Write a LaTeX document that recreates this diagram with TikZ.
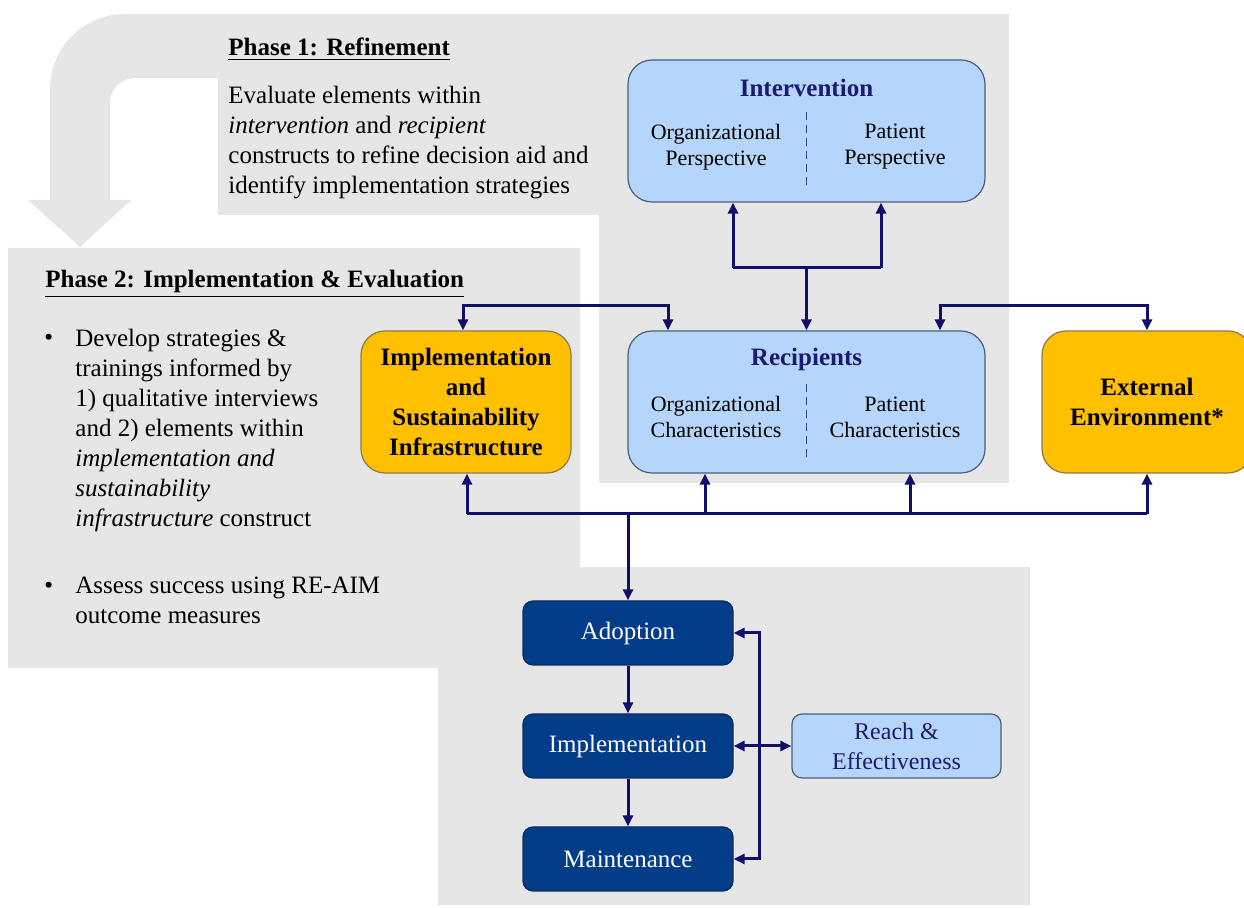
\documentclass[tikz,border=0pt]{standalone}
\usepackage{fontspec}
\setmainfont{Liberation Serif}
\usetikzlibrary{arrows.meta}

\definecolor{phasegray}{HTML}{E7E6E6}
\definecolor{lightblue}{HTML}{B5D6FA}
\definecolor{boxedge}{HTML}{4A5E7E}
\definecolor{gold}{HTML}{FFC000}
\definecolor{goldedge}{HTML}{8C7A4A}
\definecolor{navybox}{HTML}{033C89}
\definecolor{navyedge}{HTML}{0C2A5E}
\definecolor{navytext}{HTML}{1A1A6E}
\definecolor{navyline}{HTML}{10106A}
\definecolor{dividerblue}{HTML}{2A4A8A}

\newcommand{\bodysize}{\fontsize{12.5}{15}\selectfont}
\newcommand{\subsize}{\fontsize{11}{13}\selectfont}

\tikzset{
    bluebox/.style={shape=rectangle, rounded corners=12pt, draw=boxedge, line width=0.6pt, fill=lightblue, minimum width=178.5pt, minimum height=71pt, inner sep=0pt},
    goldbox/.style={shape=rectangle, rounded corners=12pt, draw=goldedge, line width=0.6pt, fill=gold, minimum width=105pt, minimum height=71pt, inner sep=0pt, align=center, font=\bodysize\bfseries},
    stagebox/.style={shape=rectangle, rounded corners=5pt, draw=navyedge, line width=0.6pt, fill=navybox, text=white, minimum width=105pt, minimum height=32pt, inner sep=0pt, font=\bodysize},
    reachbox/.style={shape=rectangle, rounded corners=5pt, draw=boxedge, line width=0.6pt, fill=lightblue, text=navytext, minimum width=104.5pt, minimum height=32pt, inner sep=0pt, align=center, font=\fontsize{12}{15}\selectfont},
    boxtitle/.style={inner sep=0pt, text=navytext, font=\bodysize\bfseries},
    subtext/.style={inner sep=0pt, align=center, font=\subsize},
    divider/.style={draw=dividerblue, line width=0.9pt, dash pattern=on 4pt off 2.5pt},
    link/.style={draw=navyline, line width=1.5pt},
    phasetext/.style={inner sep=0pt, align=left, font=\bodysize},
}

\begin{document}
\begin{tikzpicture}[x=0.5pt, y=-0.5pt, >={Triangle[length=5.5pt, width=5pt]}]
    \useasboundingbox (0,0) rectangle (1244,908);

    % phase backgrounds
    \fill[phasegray] (80,247) -- (131,200) -- (110,200) -- (110,103)
        arc[start angle=180, end angle=90, radius=12.5pt] -- (218,78) -- (218,215)
        -- (599,215) -- (599,483) -- (1009,483) -- (1009,14) -- (125,14)
        arc[start angle=90, end angle=180, radius=37.5pt] -- (50,200) -- (28,200) -- cycle;
    \fill[phasegray] (8,248) -- (580,248) -- (580,567) -- (1030,567) -- (1030,905)
        -- (438,905) -- (438,668) -- (8,668) -- cycle;

    % phase texts
    \node[phasetext, anchor=base west] at (228,56) (p1title) {\underline{\textbf{Phase 1: Refinement}}};
    \node[phasetext, anchor=north west] at (228,86) (p1text) {Evaluate elements within\\
        \textit{intervention} and \textit{recipient}\\
        constructs to refine decision aid and\\
        identify implementation strategies};
    \node[phasetext, anchor=base west] at (45,288) (p2title) {\underline{\textbf{Phase 2: Implementation \& Evaluation}}};
    \node[phasetext, anchor=base west] at (44,346) (bullet1) {\textbullet};
    \node[phasetext, anchor=north west] at (75,329) (p2text1) {Develop strategies \&\\
        trainings informed by\\
        1) qualitative interviews\\
        and 2) elements within\\
        \textit{implementation and}\\
        \textit{sustainability}\\
        \textit{infrastructure} construct};
    \node[phasetext, anchor=base west] at (44,594) (bullet2) {\textbullet};
    \node[phasetext, anchor=north west] at (75,577) (p2text2) {Assess success using RE-AIM\\
        outcome measures};

    % constructs
    \node[bluebox] at (806.5,131) (intv) {};
    \node[boxtitle] at (806.5,88) (intvtitle) {Intervention};
    \node[subtext] at (716,147) (intvorg) {Organizational\\Perspective};
    \node[subtext] at (895,147) (intvpat) {Patient\\Perspective};
    \draw[divider] ([yshift=-26.5pt]intv.north) -- ([yshift=7pt]intv.south);

    \node[bluebox] at (806.5,402) (recip) {};
    \node[boxtitle] at (806.5,359) (reciptitle) {Recipients};
    \node[subtext] at (716,417) (reciporg) {Organizational\\Characteristics};
    \node[subtext] at (895,417) (recippat) {Patient\\Characteristics};
    \draw[divider] ([yshift=-27pt]recip.north) -- ([yshift=6.5pt]recip.south);

    \node[goldbox] at (466,402) (infra) {Implementation\\and\\Sustainability\\Infrastructure};
    \node[goldbox] at (1147,402) (extenv) {External\\Environment*};

    % RE-AIM
    \node[stagebox] at (628,633) (adopt) {Adoption};
    \node[stagebox] at (628,746) (implem) {Implementation};
    \node[stagebox] at (628,859) (maint) {Maintenance};
    \node[reachbox] at (896.5,746) (reach) {Reach \&\\Effectiveness};

    % connectors
    \coordinate (jtop) at (806.5,268);
    \coordinate (jtopl) at (733,268);
    \coordinate (jtopr) at (881,268);
    \draw[link] (jtopl) -- (jtopr);
    \draw[link,->] (jtopl) -- (jtopl |- intv.south);
    \draw[link,->] (jtopr) -- (jtopr |- intv.south);
    \draw[link,->] (jtop) -- (recip.north);

    \coordinate (rowl1) at (463,306);
    \coordinate (rowl2) at (668,306);
    \draw[link,<->] (infra.north -| rowl1) -- (rowl1) -- (rowl2) -- (recip.north -| rowl2);
    \coordinate (rowr1) at (940,306);
    \coordinate (rowr2) at (1147,306);
    \draw[link,<->] (recip.north -| rowr1) -- (rowr1) -- (rowr2) -- (extenv.north -| rowr2);

    \coordinate (bus1) at (467,514);
    \coordinate (bus2) at (705,514);
    \coordinate (bus3) at (910,514);
    \coordinate (bus4) at (1147,514);
    \coordinate (busm) at (628,514);
    \draw[link] (bus1) -- (bus4);
    \draw[link,->] (bus1) -- (bus1 |- infra.south);
    \draw[link,->] (bus2) -- (bus2 |- recip.south);
    \draw[link,->] (bus3) -- (bus3 |- recip.south);
    \draw[link,->] (bus4) -- (bus4 |- extenv.south);
    \draw[link,->] (busm) -- (adopt.north);

    \draw[link,->] (adopt) -- (implem);
    \draw[link,->] (implem) -- (maint);
    \coordinate (loop) at (759,746);
    \draw[link,<->] (adopt.east) -- (adopt.east -| loop) -- (maint.east -| loop) -- (maint.east);
    \draw[link,<->] (implem) -- (reach);
\end{tikzpicture}
\end{document}
